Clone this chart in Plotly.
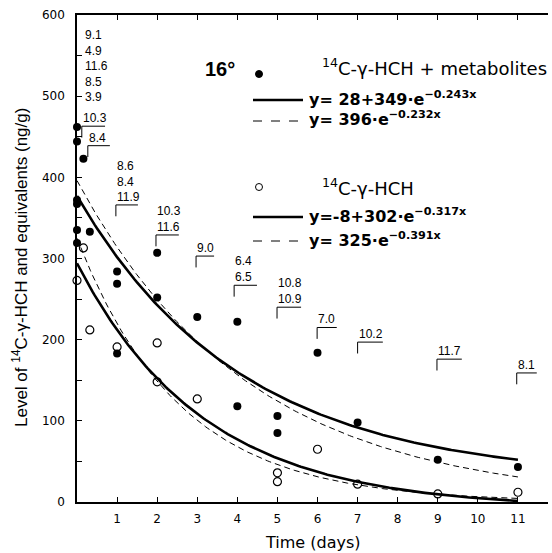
import numpy as np
import plotly.graph_objects as go

# ---------------- data ----------------
# 14C-gamma-HCH + metabolites (filled dots)
met_x = [0, 0, 0.16, 0, 0, 0, 0, 0.32, 1, 1, 1, 2, 2, 3, 4, 4, 5, 5, 6, 7, 9, 11]
met_y = [462, 444, 423, 372, 367, 335, 319, 333, 284, 269, 183, 307, 252, 228, 222, 118, 106, 85, 184, 98, 52, 43]
# 14C-gamma-HCH (open circles)
hch_x = [0, 0.16, 0.32, 1, 2, 2, 3, 5, 5, 6, 7, 9, 11]
hch_y = [273, 313, 212, 191, 196, 148, 127, 36, 25, 65, 22, 10, 12]

# fitted curves as printed on the chart: y = c + a*exp(-k*x)
met_fit_full = {"c": 28, "a": 349, "k": 0.243}
met_fit_simple = {"c": 0, "a": 396, "k": 0.232}
hch_fit_full = {"c": -8, "a": 302, "k": 0.317}
hch_fit_simple = {"c": 0, "a": 325, "k": 0.391}
fit_x_max = 11

# numbers printed above the brackets (per sampling day)
top_stack_labels = ["9.1", "4.9", "11.6", "8.5", "3.9"]
bracket_labels = [["10.3"], ["8.4"], ["8.6", "8.4", "11.9"], ["10.3", "11.6"], ["9.0"],
                  ["6.4", "6.5"], ["10.8", "10.9"], ["7.0"], ["10.2"], ["11.7"], ["8.1"]]

x_ticks = [1, 2, 3, 4, 5, 6, 7, 8, 9, 10, 11]
y_ticks = [0, 100, 200, 300, 400, 500, 600]

# ---------------- layout helpers ----------------
W, H = 552, 553
L, R, T, B = 77, 4, 15, 51
PW, PH = W - L - R, H - T - B
FONT = "Liberation Sans"
WIDE = "DejaVu Sans"


def px(x):
    return (x - L) / PW


def py(y):
    return (H - B - y) / PH


def curve(p):
    xs = np.linspace(0, fit_x_max, 200)
    return xs, p["c"] + p["a"] * np.exp(-p["k"] * xs)


fig = go.Figure()

for p, w, d in [(met_fit_full, 2.6, "solid"), (met_fit_simple, 1, "6px,4px"),
                (hch_fit_full, 2.6, "solid"), (hch_fit_simple, 1, "6px,4px")]:
    xs, ys = curve(p)
    fig.add_trace(go.Scatter(x=xs, y=ys, mode="lines", line=dict(color="black", width=w, dash=d),
                             hoverinfo="skip", showlegend=False))

fig.add_trace(go.Scatter(x=met_x, y=met_y, mode="markers", cliponaxis=False, showlegend=False,
                         marker=dict(symbol="circle", size=8, color="black")))
fig.add_trace(go.Scatter(x=hch_x, y=hch_y, mode="markers", cliponaxis=False, showlegend=False,
                         marker=dict(symbol="circle-open", size=8, color="black", line=dict(width=1.2))))

shapes = []
annotations = []

# brackets (x of vertical stroke, y of horizontal stroke, x end)
bracket_pos = [(0.12, 463, 0.70), (0.27, 439, 0.82), (0.97, 366, 1.52), (1.97, 329, 2.54),
               (2.97, 303, 3.42), (3.92, 267, 4.49), (4.99, 240, 5.59), (5.99, 215, 6.48),
               (7.0, 197, 7.63), (8.98, 176, 9.6), (10.97, 159, 11.47)]
for (bx, by, bx2), labs in zip(bracket_pos, bracket_labels):
    shapes.append(dict(type="path", xref="x", yref="y",
                       path=f"M {bx},{by - 14} L {bx},{by} L {bx2},{by}",
                       line=dict(color="black", width=1)))
    annotations.append(dict(x=bx, y=by, xref="x", yref="y", xanchor="left", yanchor="bottom",
                            text="<br>".join(labs), showarrow=False, align="left", xshift=-1,
                            yshift=-1, font=dict(family=FONT, size=12, color="black")))

annotations.append(dict(x=0.14, y=488, xref="x", yref="y", xanchor="left", yanchor="bottom",
                        text="<br>".join(top_stack_labels), showarrow=False, align="left",
                        font=dict(family=FONT, size=12, color="black")))

# legend block
annotations.append(dict(x=px(220), y=py(69), xref="paper", yref="paper", text="<b>16°</b>",
                        xanchor="center", yanchor="middle",
                        showarrow=False, font=dict(family=FONT, size=20, color="black")))
shapes.append(dict(type="circle", xref="paper", yref="paper", x0=px(255.5), x1=px(262.5),
                   y0=py(70.5), y1=py(77.5), fillcolor="black", line=dict(color="black", width=1)))
shapes.append(dict(type="circle", xref="paper", yref="paper", x0=px(255.5), x1=px(262.5),
                   y0=py(183.5), y1=py(190.5), fillcolor="white", line=dict(color="black", width=1)))
for yy, w, d in [(100, 2.5, "solid"), (121, 1, "dash"), (217, 2.5, "solid"), (241, 1, "dash")]:
    shapes.append(dict(type="line", xref="paper", yref="paper", x0=px(253), x1=px(303),
                       y0=py(yy), y1=py(yy), line=dict(color="black", width=w, dash=d)))

legend_texts = [
    (320, 67, "<sup>14</sup>C-γ-HCH + metabolites", False),
    (307, 98, "y= 28+349·e<sup>−0.243x</sup>", True),
    (307, 119, "y= 396·e<sup>−0.232x</sup>", True),
    (320, 187, "<sup>14</sup>C-γ-HCH", False),
    (307, 215, "y=-8+302·e<sup>−0.317x</sup>", True),
    (307, 239, "y= 325·e<sup>−0.391x</sup>", True),
]
for lx, ly, txt, bold in legend_texts:
    annotations.append(dict(x=px(lx), y=py(ly), xref="paper", yref="paper", xanchor="left",
                            yanchor="middle", showarrow=False,
                            text=f"<b>{txt}</b>" if bold else txt,
                            font=dict(family=WIDE, size=16 if bold else 18, color="black")))

# axis titles
annotations.append(dict(x=px(20), y=py(268), xref="paper", yref="paper", textangle=-90,
                        xanchor="center", yanchor="middle",
                        text="Level of <sup>14</sup>C-γ-HCH and equivalents (ng/g)", showarrow=False,
                        font=dict(family=FONT, size=17, color="black")))
annotations.append(dict(x=px(313), y=py(542), xref="paper", yref="paper",
                        xanchor="center", yanchor="middle",
                        text="Time (days)", showarrow=False,
                        font=dict(family=WIDE, size=16, color="black")))

fig.update_layout(
    width=W, height=H, margin=dict(l=L, r=R, t=T, b=B),
    paper_bgcolor="white", plot_bgcolor="white",
    shapes=shapes, annotations=annotations, showlegend=False,
    xaxis=dict(range=[0, 11.75], tickvals=x_ticks, ticktext=[str(v) for v in x_ticks],
               ticks="inside", ticklen=5, tickwidth=1, tickcolor="black",
               showline=True, linecolor="black", linewidth=1.5, mirror="ticks",
               showgrid=False, zeroline=False, ticklabelstandoff=5,
               tickfont=dict(family=WIDE, size=12, color="black")),
    yaxis=dict(range=[0, 600], tickvals=y_ticks, ticks="inside", ticklen=5, tickwidth=1,
               tickcolor="black", showline=True, linecolor="black", linewidth=1.5,
               showgrid=False, zeroline=False, ticklabelstandoff=8,
               minor=dict(dtick=50, ticks="inside", ticklen=5, tickcolor="black", showgrid=False),
               tickfont=dict(family=WIDE, size=12, color="black")),
)

fig.write_html("out.html", config={"displayModeBar": False},
               post_script="document.body.style.margin='0px';")
